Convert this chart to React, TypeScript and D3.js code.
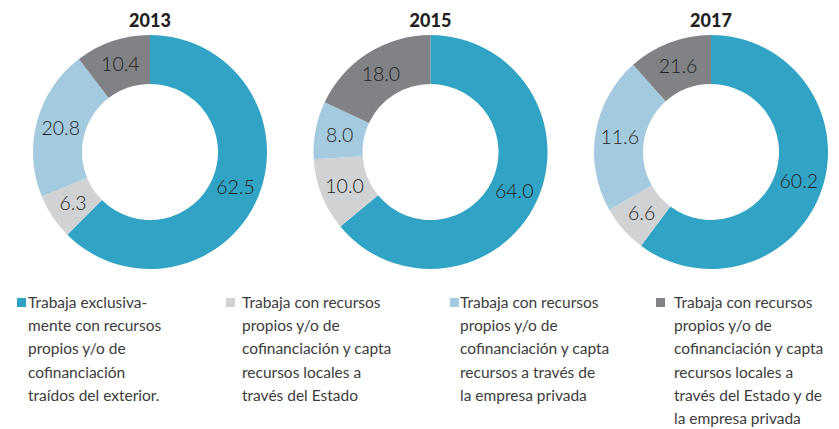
import React, { useEffect, useRef } from "react";
import * as d3 from "d3";

// años y valores (%) de cada dona, en orden horario desde arriba
const years = ["2013", "2015", "2017"];
const values2013 = [62.5, 6.3, 20.8, 10.4];
const values2015 = [64.0, 10.0, 8.0, 18.0];
// en la figura original las porciones de 2017 no coinciden con sus etiquetas
const values2017 = [60.2, 6.6, 21.6, 11.6];
const labels2013 = ["62.5", "6.3", "20.8", "10.4"];
const labels2015 = ["64.0", "10.0", "8.0", "18.0"];
const labels2017 = ["60.2", "6.6", "11.6", "21.6"];

const categories = [
  ["Trabaja exclusiva-", "mente con recursos", "propios y/o de", "cofinanciación", "traídos del exterior."],
  ["Trabaja con recursos", "propios y/o de", "cofinanciación y capta", "recursos locales a", "través del Estado"],
  ["Trabaja con recursos", "propios y/o de", "cofinanciación y capta", "recursos a través de", "la empresa privada"],
  ["Trabaja con recursos", "propios y/o de", "cofinanciación y capta", "recursos locales a", "través del Estado y de", "la empresa privada"],
];
const colors = ["#31a3c5", "#d1d2d4", "#a3cadf", "#808285"];

const App = () => {
  const svgRef = useRef<SVGSVGElement>(null);

  useEffect(() => {
    const svg = d3.select(svgRef.current);
    svg.selectAll("*").remove();

    const font = "Lato, 'Open Sans', sans-serif";
    const allValues = [values2013, values2015, values2017];
    const allLabels = [labels2013, labels2015, labels2017];

    const cx = d3.scalePoint().domain(years).range([150, 711]);
    const cy = 152;
    const outerR = 117;
    const innerR = 68;

    const pie = d3.pie<number>().sort(null).value((d) => d);
    const arc = d3.arc<d3.PieArcDatum<number>>().innerRadius(innerR).outerRadius(outerR);

    years.forEach((year, i) => {
      const g = svg.append("g").attr("transform", `translate(${cx(year)},${cy})`);
      const arcs = pie(allValues[i]);

      g.selectAll("path")
        .data(arcs)
        .enter()
        .append("path")
        .attr("d", arc)
        .attr("fill", (d, j) => colors[j]);

      g.selectAll("text.val")
        .data(arcs)
        .enter()
        .append("text")
        .attr("class", "val")
        .attr("transform", (d) => `translate(${arc.centroid(d)})`)
        .attr("text-anchor", "middle")
        .attr("dy", "0.36em")
        .attr("font-family", font)
        .attr("font-weight", 300)
        .attr("font-size", 19.5)
        .attr("fill", "#231f20")
        .text((d, j) => allLabels[i][j]);

      svg
        .append("text")
        .attr("x", cx(year))
        .attr("y", 27)
        .attr("text-anchor", "middle")
        .attr("font-family", font)
        .attr("font-weight", 900)
        .attr("font-size", 18)
        .attr("fill", "#231f20")
        .text(year);
    });

    // leyenda
    const squareX = [17, 226, 450, 656];
    const textX = [28, 242, 460, 674];
    const legend = svg
      .selectAll("g.legend")
      .data(categories)
      .enter()
      .append("g")
      .attr("class", "legend");

    legend
      .append("rect")
      .attr("x", (d, i) => squareX[i])
      .attr("y", 298)
      .attr("width", 9)
      .attr("height", 9)
      .attr("fill", (d, i) => colors[i]);

    legend
      .append("text")
      .attr("font-family", font)
      .attr("font-size", 15.5)
      .attr("fill", "#3c3c3c")
      .each(function (d, i) {
        d3.select(this)
          .selectAll("tspan")
          .data(d)
          .enter()
          .append("tspan")
          .attr("x", textX[i])
          .attr("y", (t, j) => 308 + j * 23.2)
          .text((t) => t);
      });
  }, []);

  return <svg ref={svgRef} width={839} height={429} style={{ position: "absolute", left: 0, top: 0 }}></svg>;
};

export default App;
